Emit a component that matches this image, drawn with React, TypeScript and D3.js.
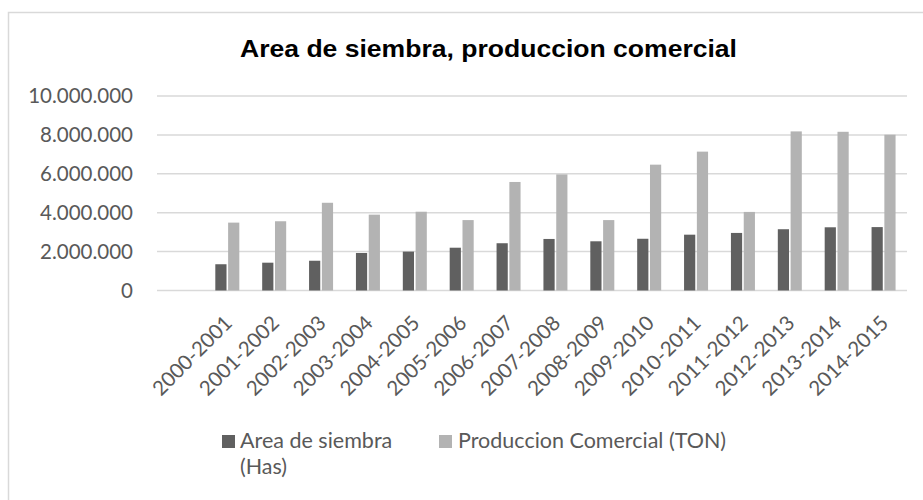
import { useEffect, useRef } from 'react'
import * as d3 from 'd3'

// campañas (la primera columna del gráfico original está vacía)
const seasons = [
  '2000-2001', '2001-2002', '2002-2003', '2003-2004', '2004-2005',
  '2005-2006', '2006-2007', '2007-2008', '2008-2009', '2009-2010',
  '2010-2011', '2011-2012', '2012-2013', '2013-2014', '2014-2015',
]
const areaSiembra = [
  1350000, 1430000, 1530000, 1930000, 2000000, 2200000, 2430000, 2650000,
  2530000, 2660000, 2870000, 2960000, 3150000, 3250000, 3260000,
]
const produccion = [
  3490000, 3560000, 4510000, 3900000, 4050000, 3620000, 5580000, 5970000,
  3620000, 6470000, 7140000, 4040000, 8180000, 8160000, 8010000,
]
const yTicks = [0, 2000000, 4000000, 6000000, 8000000, 10000000]
const seriesNames = ['Area de siembra (Has)', 'Produccion Comercial (TON)']
const seriesColors = ['#606060', '#b3b3b3']

const W = 923
const H = 500
const FONT = 'Lato, "Open Sans", sans-serif'

export default function App() {
  const ref = useRef<SVGSVGElement>(null)

  useEffect(() => {
    if (!ref.current) return
    const svg = d3.select(ref.current)
    svg.selectAll('*').remove()

    const left = 157
    const right = 907
    const top = 96
    const bottom = 290.5

    // marco del gráfico
    svg.append('rect')
      .attr('x', 8.5).attr('y', 12.5)
      .attr('width', W + 20).attr('height', H + 20)
      .attr('fill', '#fff')
      .attr('stroke', '#d9d9d9')
      .attr('stroke-width', 1.5)

    svg.append('text')
      .attr('x', 488.5).attr('y', 56.5)
      .attr('text-anchor', 'middle')
      .attr('font-family', '"Liberation Sans", Arial, sans-serif')
      .attr('font-weight', 'bold')
      .attr('font-size', 24)
      .attr('textLength', 497)
      .attr('lengthAdjust', 'spacingAndGlyphs')
      .attr('fill', '#000')
      .text('Area de siembra, produccion comercial')

    const x = d3.scaleBand<string>()
      .domain(['', ...seasons])
      .range([left, right])

    const y = d3.scaleLinear()
      .domain([0, 10000000])
      .range([bottom, top])

    const fmt = (v: number) => d3.format(',')(v).replace(/,/g, '.')

    // líneas de cuadrícula
    svg.selectAll('.grid')
      .data(yTicks)
      .enter()
      .append('line')
      .attr('x1', left).attr('x2', right)
      .attr('y1', d => y(d)).attr('y2', d => y(d))
      .attr('stroke', '#d9d9d9')
      .attr('stroke-width', 1.5)

    svg.selectAll('.ytick')
      .data(yTicks)
      .enter()
      .append('text')
      .attr('x', 133)
      .attr('y', d => y(d))
      .attr('dy', '0.36em')
      .attr('text-anchor', 'end')
      .attr('font-family', FONT)
      .attr('font-size', 20.5)
      .attr('fill', '#595959')
      .text(d => fmt(d))

    const x1 = d3.scaleBand<number>()
      .domain([0, 1])
      .range([0, 24])
      .paddingInner(0.125)

    const series = [areaSiembra, produccion]
    series.forEach((vals, si) => {
      svg.selectAll(`.bar-${si}`)
        .data(vals)
        .enter()
        .append('rect')
        .attr('x', (_, i) => (x(seasons[i]) || 0) + x.bandwidth() / 2 - 12 + (x1(si) || 0))
        .attr('y', d => y(d))
        .attr('width', x1.bandwidth())
        .attr('height', d => bottom - y(d))
        .attr('fill', seriesColors[si])
    })

    // etiquetas del eje x, rotadas 45°
    svg.selectAll('.xlab')
      .data(seasons)
      .enter()
      .append('text')
      .attr('transform', d => `translate(${(x(d) || 0) + x.bandwidth() / 2 + 1},${319}) rotate(-45)`)
      .attr('text-anchor', 'end')
      .attr('dy', '0.36em')
      .attr('font-family', FONT)
      .attr('font-size', 20.5)
      .attr('fill', '#595959')
      .text(d => d)

    // leyenda
    const legend = svg.append('g')
      .attr('font-family', FONT)
      .attr('font-size', 21.5)
      .attr('fill', '#595959')

    legend.append('rect')
      .attr('x', 222).attr('y', 435)
      .attr('width', 13).attr('height', 13)
      .attr('fill', seriesColors[0])
    const t0 = legend.append('text').attr('x', 240).attr('y', 448)
    t0.append('tspan').attr('x', 240).text('Area de siembra')
    t0.append('tspan').attr('x', 240).attr('dy', 26).text('(Has)')

    legend.append('rect')
      .attr('x', 439).attr('y', 435)
      .attr('width', 13).attr('height', 13)
      .attr('fill', seriesColors[1])
    legend.append('text')
      .attr('x', 458).attr('y', 448)
      .text(seriesNames[1])
  }, [])

  return (
    <svg
      ref={ref}
      width={W}
      height={H}
      style={{ position: 'absolute', left: 0, top: 0, display: 'block', background: '#fff' }}
    />
  )
}
